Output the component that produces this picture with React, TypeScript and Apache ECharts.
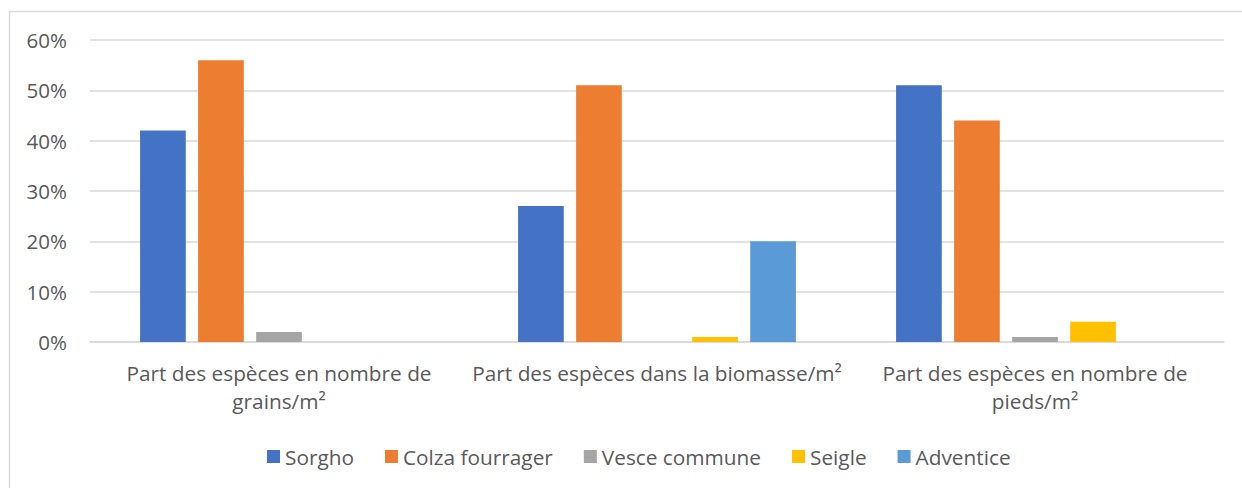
import React, { useEffect, useRef } from "react";
import * as echarts from "echarts";

const categories = [
  "Part des espèces en nombre de\ngrains/m²",
  "Part des espèces dans la biomasse/m²",
  "Part des espèces en nombre de\npieds/m²",
];
const seriesNames = ["Sorgho", "Colza fourrager", "Vesce commune", "Seigle", "Adventice"];
const sorgho = [42, 27, 51];
const colza = [56, 51, 44];
const vesce = [2, 0, 1];
const seigle = [0, 1, 4];
const adventice = [0, 20, 0];
const colors = ["#4472C4", "#ED7D31", "#A5A5A5", "#FFC000", "#5B9BD5"];
const yTicks = [0, 10, 20, 30, 40, 50, 60];

export default function App() {
  const ref = useRef<HTMLDivElement>(null);
  useEffect(() => {
    if (!ref.current) return;
    const chart = echarts.init(ref.current, undefined, { renderer: "svg" });
    const values = [sorgho, colza, vesce, seigle, adventice];
    const font = "'Open Sans', sans-serif";
    chart.setOption({
      animation: false,
      color: colors,
      graphic: [
        {
          type: "rect",
          shape: { x: 9.5, y: 11.5, width: 1400, height: 700 },
          style: { fill: "none", stroke: "#D9D9D9", lineWidth: 1.5 },
          silent: true,
          z: -10,
        },
      ],
      grid: { left: 90, right: 18, top: 40, bottom: 146, containLabel: false },
      xAxis: {
        type: "category",
        data: categories,
        axisLine: { show: true, lineStyle: { color: "#D9D9D9", width: 1.5 } },
        axisTick: { show: false },
        axisLabel: {
          interval: 0,
          color: "#595959",
          fontFamily: font,
          fontSize: 20.8,
          lineHeight: 28,
          margin: 17,
        },
      },
      yAxis: {
        type: "value",
        min: 0,
        max: 60,
        interval: 10,
        axisLine: { show: false },
        axisTick: { show: false },
        splitLine: { lineStyle: { color: "#D9D9D9", width: 1.5 } },
        axisLabel: {
          color: "#595959",
          fontFamily: font,
          fontSize: 20.5,
          margin: 23,
          formatter: (v: number) => (yTicks.includes(v) ? v + "%" : ""),
        },
      },
      legend: {
        data: seriesNames,
        bottom: 16,
        left: 262,
        itemWidth: 13,
        itemHeight: 13,
        itemGap: 31,
        icon: "rect",
        textStyle: { color: "#595959", fontFamily: font, fontSize: 20.8 },
      },
      series: seriesNames.map((name, i) => ({
        name,
        type: "bar",
        data: values[i],
        barWidth: 45.7,
        barGap: "27%",
        itemStyle: { color: colors[i] },
      })),
    });
    return () => chart.dispose();
  }, []);
  return (
    <div
      ref={ref}
      style={{ position: "absolute", left: 0, top: 0, width: 1242, height: 488, background: "#fff" }}
    />
  );
}
